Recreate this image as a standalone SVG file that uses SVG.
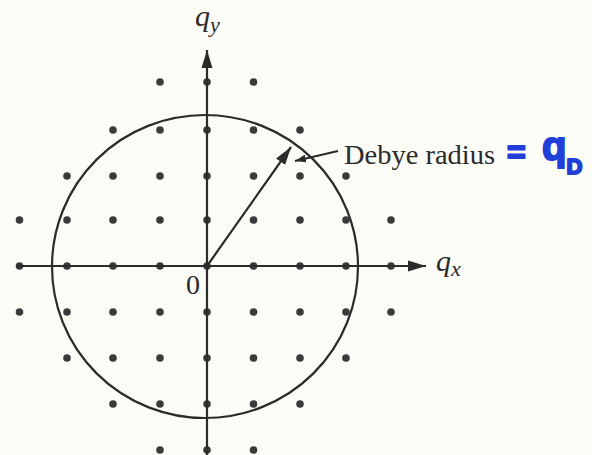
<svg xmlns="http://www.w3.org/2000/svg" width="592" height="455" viewBox="0 0 592 455">
<style>
.ln{stroke:#2b2b2b;stroke-width:2.2;fill:none}
.dot{fill:#3a3a3a}
.lbl{font-family:"Liberation Serif",serif;fill:#2b2b2b}
.it{font-style:italic}
.blue{font-family:"Liberation Sans",sans-serif;font-weight:bold;fill:#1f3fd8;stroke:#1f3fd8;stroke-width:2;stroke-linejoin:round}
</style>
<defs>
<marker id="ah" markerUnits="userSpaceOnUse" markerWidth="20" markerHeight="12" refX="18" refY="6" orient="auto">
<path d="M0,0.5 L18,6 L0,11.5 z" fill="#2b2b2b"/>
</marker>
<marker id="ahs" markerUnits="userSpaceOnUse" markerWidth="12" markerHeight="8" refX="11" refY="4" orient="auto">
<path d="M0,0 L11,4 L0,8 z" fill="#2b2b2b"/>
</marker>
</defs>
<rect width="592" height="455" fill="#fcfcf7"/>
<g id="circle">
<ellipse class="ln" cx="205" cy="266.5" rx="153" ry="151.5"/>
</g>
<g id="dots">
<circle class="dot" cx="160" cy="82" r="3.8"/><circle class="dot" cx="207" cy="82" r="3.8"/><circle class="dot" cx="253.5" cy="82" r="3.8"/>
<circle class="dot" cx="113" cy="130" r="3.8"/><circle class="dot" cx="160" cy="130" r="3.8"/><circle class="dot" cx="207" cy="130" r="3.8"/><circle class="dot" cx="253.5" cy="130" r="3.8"/><circle class="dot" cx="300" cy="130" r="3.8"/>
<circle class="dot" cx="67" cy="176" r="3.8"/><circle class="dot" cx="113" cy="176" r="3.8"/><circle class="dot" cx="160" cy="176" r="3.8"/><circle class="dot" cx="207" cy="176" r="3.8"/><circle class="dot" cx="253.5" cy="176" r="3.8"/><circle class="dot" cx="300" cy="176" r="3.8"/><circle class="dot" cx="346" cy="176" r="3.8"/>
<circle class="dot" cx="19.5" cy="220" r="3.8"/><circle class="dot" cx="67" cy="220" r="3.8"/><circle class="dot" cx="113" cy="220" r="3.8"/><circle class="dot" cx="160" cy="220" r="3.8"/><circle class="dot" cx="207" cy="220" r="3.8"/><circle class="dot" cx="253.5" cy="220" r="3.8"/><circle class="dot" cx="300" cy="220" r="3.8"/><circle class="dot" cx="346" cy="220" r="3.8"/><circle class="dot" cx="391" cy="220" r="3.8"/>
<circle class="dot" cx="19.5" cy="266" r="3.8"/><circle class="dot" cx="67" cy="266" r="3.8"/><circle class="dot" cx="113" cy="266" r="3.8"/><circle class="dot" cx="160" cy="266" r="3.8"/><circle class="dot" cx="207" cy="266" r="3.8"/><circle class="dot" cx="253.5" cy="266" r="3.8"/><circle class="dot" cx="300" cy="266" r="3.8"/><circle class="dot" cx="346" cy="266" r="3.8"/><circle class="dot" cx="391" cy="266" r="3.8"/>
<circle class="dot" cx="19.5" cy="312" r="3.8"/><circle class="dot" cx="67" cy="312" r="3.8"/><circle class="dot" cx="113" cy="312" r="3.8"/><circle class="dot" cx="160" cy="312" r="3.8"/><circle class="dot" cx="207" cy="312" r="3.8"/><circle class="dot" cx="253.5" cy="312" r="3.8"/><circle class="dot" cx="300" cy="312" r="3.8"/><circle class="dot" cx="346" cy="312" r="3.8"/><circle class="dot" cx="391" cy="312" r="3.8"/>
<circle class="dot" cx="67" cy="358" r="3.8"/><circle class="dot" cx="113" cy="358" r="3.8"/><circle class="dot" cx="160" cy="358" r="3.8"/><circle class="dot" cx="207" cy="358" r="3.8"/><circle class="dot" cx="253.5" cy="358" r="3.8"/><circle class="dot" cx="300" cy="358" r="3.8"/><circle class="dot" cx="346" cy="358" r="3.8"/>
<circle class="dot" cx="113" cy="404" r="3.8"/><circle class="dot" cx="160" cy="404" r="3.8"/><circle class="dot" cx="207" cy="404" r="3.8"/><circle class="dot" cx="253.5" cy="404" r="3.8"/><circle class="dot" cx="300" cy="404" r="3.8"/>
<circle class="dot" cx="160" cy="450" r="3.8"/><circle class="dot" cx="207" cy="450" r="3.8"/><circle class="dot" cx="253.5" cy="450" r="3.8"/>
</g>
<g id="connectors">
<line id="axis-y" class="ln" x1="207" y1="455" x2="207" y2="50" marker-end="url(#ah)"/>
<line id="axis-x" class="ln" x1="17" y1="266" x2="426" y2="266" marker-end="url(#ah)"/>
<line id="radius" class="ln" x1="207" y1="266" x2="291" y2="147" marker-end="url(#ah)"/>
<line id="pointer" class="ln" stroke-width="1.7" x1="338" y1="151" x2="295" y2="161" marker-end="url(#ahs)"/>
</g>
<g id="labels">
<text class="lbl it" x="195" y="26" font-size="30">q<tspan font-size="22" dy="6">y</tspan></text>
<text class="lbl it" x="436" y="271" font-size="30">q<tspan font-size="22" dy="5">x</tspan></text>
<text class="lbl" x="186" y="294" font-size="28">0</text>
<text class="lbl" x="344" y="164" font-size="27" textLength="151" lengthAdjust="spacingAndGlyphs">Debye radius</text>
<text class="blue" x="507" y="163" font-size="32">=</text>
<text class="blue" x="542" y="160" font-size="40">q<tspan font-size="22" dy="14">D</tspan></text>
</g>
</svg>
